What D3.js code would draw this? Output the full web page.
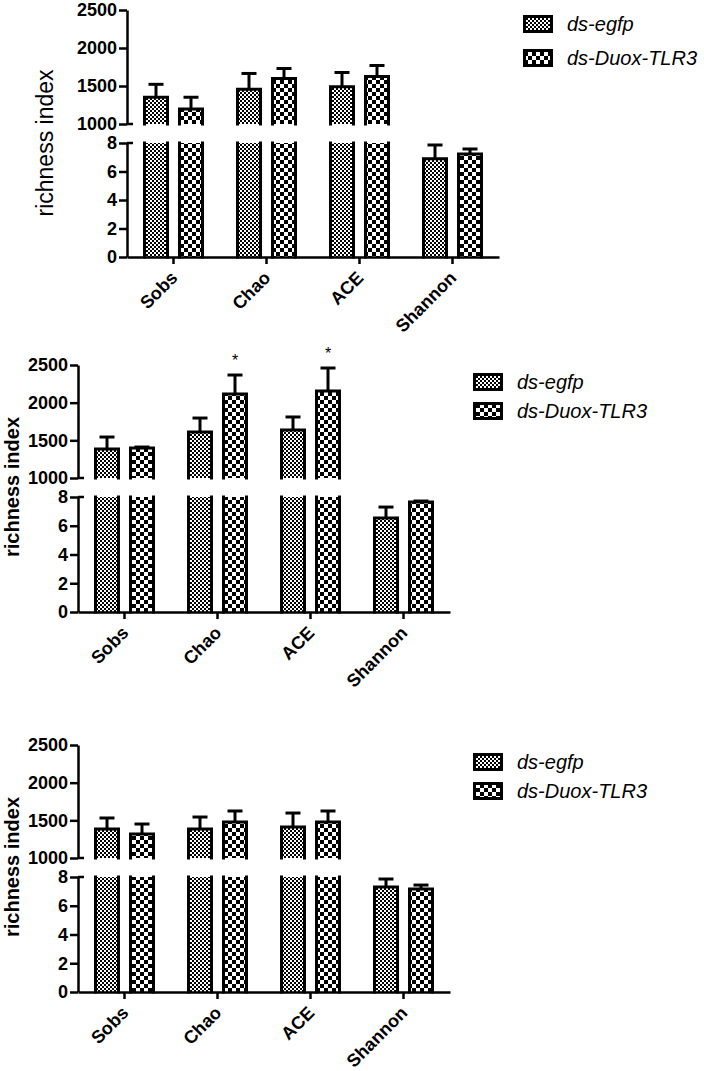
<!DOCTYPE html>
<html>
<head>
<meta charset="utf-8">
<script src="https://cdn.jsdelivr.net/npm/d3@7"></script>
<style>
  html, body { margin: 0; padding: 0; background: #fff; }
  svg { display: block; font-family: Arial, "Liberation Sans", sans-serif; }
</style>
</head>
<body>
<script>
// ---------- data ----------
const categories = ["Sobs", "Chao", "ACE", "Shannon"];
const groups = ["ds-egfp", "ds-Duox-TLR3"];
const upperTicks = [1000, 1500, 2000, 2500];
const lowerTicks = [0, 2, 4, 6, 8];
const yTitle = "richness index";

// panel 1
const p1Egfp = [1352, 1456, 1490, 6.89];
const p1EgfpErr = [170, 209, 188, 0.97];
const p1Tlr3 = [1196, 1600, 1626, 7.23];
const p1Tlr3Err = [156, 130, 144, 0.35];
// panel 2
const p2Egfp = [1385, 1610, 1637, 6.54];
const p2EgfpErr = [159, 186, 173, 0.76];
const p2Tlr3 = [1398, 2115, 2155, 7.65];
const p2Tlr3Err = [13, 252, 305, 0.07];
const p2Tlr3Sig = ["", "*", "*", ""];
// panel 3
const p3Egfp = [1385, 1385, 1411, 7.30];
const p3EgfpErr = [146, 159, 186, 0.56];
const p3Tlr3 = [1318, 1478, 1478, 7.17];
const p3Tlr3Err = [133, 146, 146, 0.27];

// ---------- layout ----------
const W = 704, H = 1071;
const svg = d3.select("body").append("svg").attr("width", W).attr("height", H);
const defs = svg.append("defs");

function checker(id, cell) {
  const p = defs.append("pattern").attr("id", id).attr("patternUnits", "userSpaceOnUse")
    .attr("width", cell * 2).attr("height", cell * 2);
  p.append("rect").attr("width", cell * 2).attr("height", cell * 2).attr("fill", "#fff");
  p.append("rect").attr("width", cell).attr("height", cell).attr("fill", "#000");
  p.append("rect").attr("x", cell).attr("y", cell).attr("width", cell).attr("height", cell).attr("fill", "#000");
}
checker("pEgfp", 2);
checker("pTlr3", 4);
const fills = ["url(#pEgfp)", "url(#pTlr3)"];

const panels = [
  { axisX: 127, yTop: 10, yBrHi: 124, yBrLo: 143, yZero: 257,
    lgX: 523, lgY: 15, lgStep: 34, lgTextX: 567,
    titleX: 53, titleY: 143, titleSize: 23, titleWeight: "normal",
    means: [p1Egfp, p1Tlr3], errs: [p1EgfpErr, p1Tlr3Err], sig: null },
  { axisX: 78, yTop: 365, yBrHi: 478, yBrLo: 497, yZero: 612,
    lgX: 473, lgY: 373, lgStep: 29, lgTextX: 517,
    titleX: 19, titleY: 487, titleSize: 20, titleWeight: "bold",
    means: [p2Egfp, p2Tlr3], errs: [p2EgfpErr, p2Tlr3Err], sig: p2Tlr3Sig },
  { axisX: 78, yTop: 745, yBrHi: 858, yBrLo: 877, yZero: 992,
    lgX: 473, lgY: 753, lgStep: 29, lgTextX: 517,
    titleX: 19, titleY: 867, titleSize: 20, titleWeight: "bold",
    means: [p3Egfp, p3Tlr3], errs: [p3EgfpErr, p3Tlr3Err], sig: null }
];

const plotW = 372;
const barW = 23;     // fill width; stroke makes it ~26
const sw = 3;
const fmt = d3.format("d");

panels.forEach(P => {
  const g = svg.append("g");
  const x = d3.scaleBand().domain(categories).range([P.axisX, P.axisX + plotW]);
  const xg = d3.scalePoint().domain(groups).range([-17.5, 17.5]);
  const yHi = d3.scaleLinear().domain([1000, 2500]).range([P.yBrHi, P.yTop]);
  const yLo = d3.scaleLinear().domain([0, 8]).range([P.yZero, P.yBrLo]);

  // bars
  groups.forEach((grp, gi) => {
    categories.forEach((cat, ci) => {
      const v = P.means[gi][ci];
      const e = P.errs[gi][ci];
      const cx = x(cat) + x.bandwidth() / 2 + xg(grp);
      const x0 = cx - barW / 2, x1 = cx + barW / 2;
      const segs = [];
      if (v > 8) {
        segs.push({ yb: yLo(0), yt: yLo(8), top: false });
        segs.push({ yb: yHi(1000), yt: yHi(v), top: true });
      } else {
        segs.push({ yb: yLo(0), yt: yLo(v), top: true });
      }
      segs.forEach(s => {
        g.append("rect").attr("x", x0).attr("y", s.yt).attr("width", barW)
          .attr("height", s.yb - s.yt).attr("fill", fills[gi]);
        const path = s.top
          ? `M${x0},${s.yb}V${s.yt}H${x1}V${s.yb}`
          : `M${x0},${s.yb}V${s.yt}M${x1},${s.yt}V${s.yb}`;
        g.append("path").attr("d", path).attr("fill", "none").attr("stroke", "#000")
          .attr("stroke-width", sw).attr("stroke-linejoin", "miter").attr("stroke-linecap", "square");
      });
      // error bar (upward only)
      const ys = v > 8 ? yHi : yLo;
      const yv = ys(v), ye = ys(v + e);
      g.append("line").attr("x1", cx).attr("x2", cx).attr("y1", yv).attr("y2", ye + 1)
        .attr("stroke", "#000").attr("stroke-width", sw);
      g.append("line").attr("x1", cx - 7.5).attr("x2", cx + 7.5).attr("y1", ye).attr("y2", ye)
        .attr("stroke", "#000").attr("stroke-width", sw);
      if (P.sig && gi === 1 && P.sig[ci]) {
        g.append("text").attr("x", cx).attr("y", ye - 9).attr("text-anchor", "middle")
          .attr("font-size", 16).text(P.sig[ci]);
      }
    });
  });

  // y axes
  const styleAxis = sel => {
    sel.select(".domain").attr("stroke-width", 2.5);
    sel.selectAll(".tick line").attr("stroke-width", 2.5);
    sel.selectAll(".tick text").attr("font-size", 18).attr("font-weight", "bold")
      .attr("font-family", "Arial, 'Liberation Sans', sans-serif").attr("fill", "#000");
  };
  g.append("g").attr("transform", `translate(${P.axisX},0)`)
    .call(d3.axisLeft(yHi).tickValues(upperTicks).tickFormat(fmt).tickSize(8).tickSizeOuter(0).tickPadding(2))
    .call(styleAxis);
  g.append("g").attr("transform", `translate(${P.axisX},0)`)
    .call(d3.axisLeft(yLo).tickValues(lowerTicks).tickFormat(fmt).tickSize(8).tickSizeOuter(0).tickPadding(2))
    .call(styleAxis);
  // break marks extend to the right
  [yHi(1000), yLo(8)].forEach(yy => {
    g.append("line").attr("x1", P.axisX).attr("x2", P.axisX + 6).attr("y1", yy).attr("y2", yy)
      .attr("stroke", "#000").attr("stroke-width", 2.5);
  });

  // x axis
  const ax = g.append("g").attr("transform", `translate(0,${P.yZero})`)
    .call(d3.axisBottom(x).tickSize(7).tickSizeOuter(0));
  ax.select(".domain").attr("stroke-width", 2.5);
  ax.selectAll(".tick line").attr("stroke-width", 2.5);
  ax.selectAll(".tick text")
    .attr("font-size", 18).attr("font-weight", "bold").attr("fill", "#000")
    .attr("font-family", "Arial, 'Liberation Sans', sans-serif")
    .attr("text-anchor", "end").attr("dy", null)
    .attr("transform", "translate(5,22) rotate(-45)")
    .attr("x", 0).attr("y", 0);

  // y title
  g.append("text")
    .attr("transform", `translate(${P.titleX},${P.titleY}) rotate(-90)`)
    .attr("text-anchor", "middle").attr("font-size", P.titleSize)
    .attr("font-weight", P.titleWeight).text(yTitle);

  // legend
  groups.forEach((grp, gi) => {
    const yy = P.lgY + gi * P.lgStep;
    g.append("rect").attr("x", P.lgX + 1.5).attr("y", yy + 1.5).attr("width", 27).attr("height", 15)
      .attr("fill", fills[gi]).attr("stroke", "#000").attr("stroke-width", 3);
    g.append("text").attr("x", P.lgTextX).attr("y", yy + 16).attr("font-size", 20)
      .attr("font-style", "italic").text(grp);
  });
});
</script>
</body>
</html>
